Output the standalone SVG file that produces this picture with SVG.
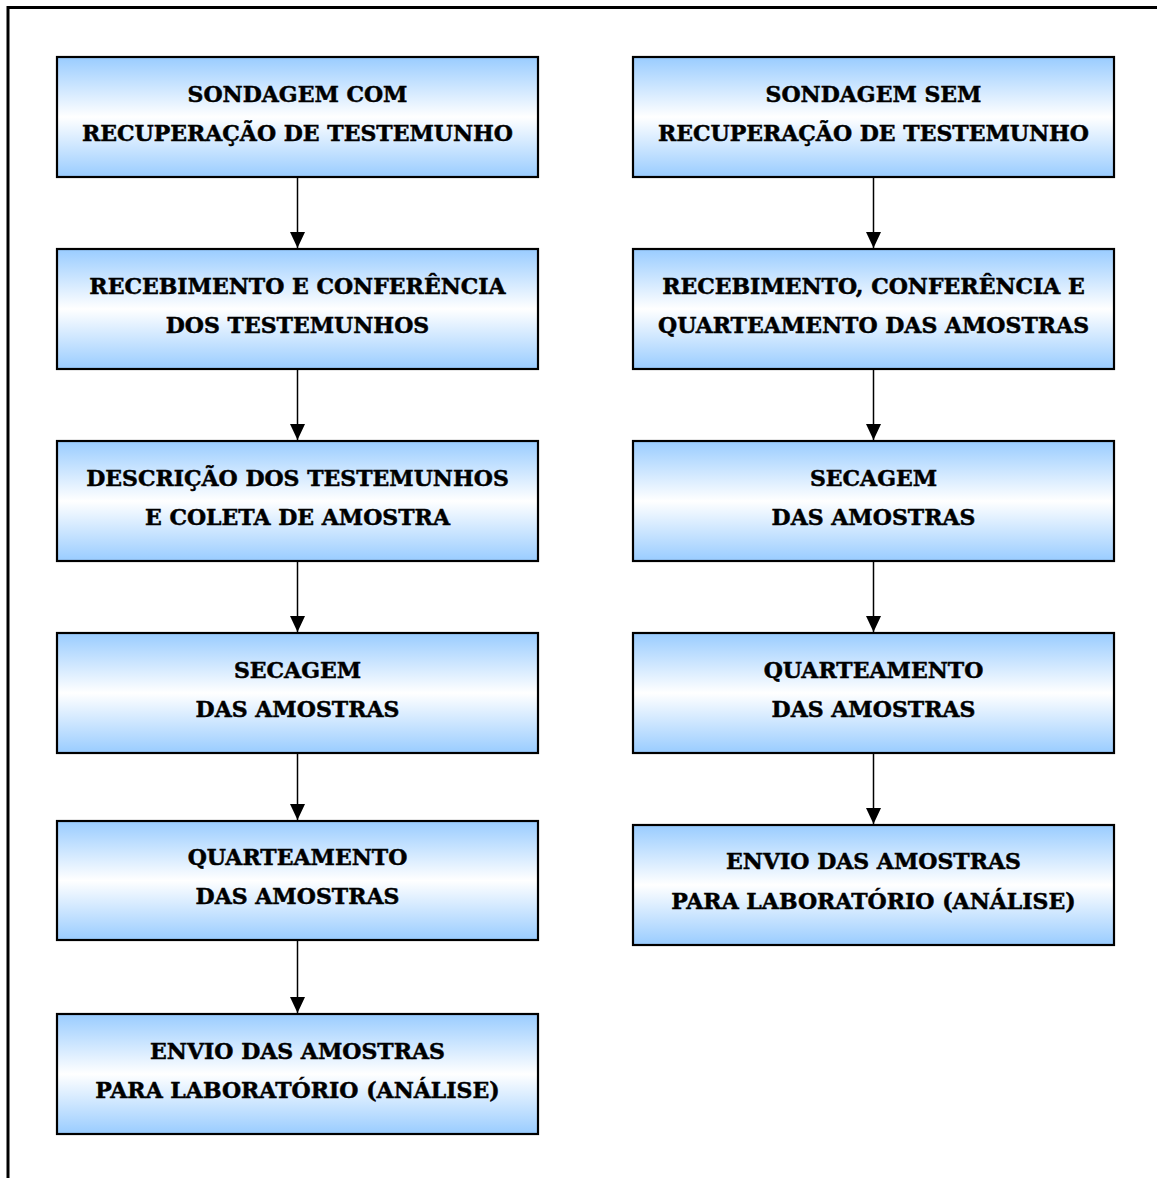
<svg xmlns="http://www.w3.org/2000/svg" width="1157" height="1178" viewBox="0 0 1157 1178">
<defs>
<linearGradient id="g" x1="0" y1="0" x2="0" y2="1">
<stop offset="0" stop-color="#99CCFF"/>
<stop offset="0.5" stop-color="#FFFFFF"/>
<stop offset="1" stop-color="#99CCFF"/>
</linearGradient>
<marker id="ah" markerWidth="16" markerHeight="16" refX="16" refY="7.5" orient="auto" markerUnits="userSpaceOnUse">
<path d="M0,0 L16,7.5 L0,15 Z" fill="#000"/>
</marker>
</defs>
<style>
.box{fill:url(#g);stroke:#000;stroke-width:2.2}
.t{font-family:"DejaVu Serif","Liberation Serif",serif;font-weight:bold;font-size:22px;text-anchor:middle;fill:#000;stroke:#000;stroke-width:0.5}
.c{stroke:#000;stroke-width:1.5;fill:none;marker-end:url(#ah)}
</style>
<rect width="1157" height="1178" fill="#fff"/>
<path d="M8,1178 V7.5 H1157" fill="none" stroke="#000" stroke-width="3"/>

<g id="L1"><rect class="box" x="57" y="57" width="481" height="120"/><text class="t" x="297.5" y="102">SONDAGEM COM</text><text class="t" x="297.5" y="141">RECUPERAÇÃO DE TESTEMUNHO</text></g>
<g id="L2"><rect class="box" x="57" y="249" width="481" height="120"/><text class="t" x="297.5" y="294">RECEBIMENTO E CONFERÊNCIA</text><text class="t" x="297.5" y="333">DOS TESTEMUNHOS</text></g>
<g id="L3"><rect class="box" x="57" y="441" width="481" height="120"/><text class="t" x="297.5" y="486">DESCRIÇÃO DOS TESTEMUNHOS</text><text class="t" x="297.5" y="525">E COLETA DE AMOSTRA</text></g>
<g id="L4"><rect class="box" x="57" y="633" width="481" height="120"/><text class="t" x="297.5" y="678">SECAGEM</text><text class="t" x="297.5" y="717">DAS AMOSTRAS</text></g>
<g id="L5"><rect class="box" x="57" y="821" width="481" height="119"/><text class="t" x="297.5" y="865">QUARTEAMENTO</text><text class="t" x="297.5" y="904">DAS AMOSTRAS</text></g>
<g id="L6"><rect class="box" x="57" y="1014" width="481" height="120"/><text class="t" x="297.5" y="1059">ENVIO DAS AMOSTRAS</text><text class="t" x="297.5" y="1098">PARA LABORATÓRIO (ANÁLISE)</text></g>

<g id="R1"><rect class="box" x="633" y="57" width="481" height="120"/><text class="t" x="873.5" y="102">SONDAGEM SEM</text><text class="t" x="873.5" y="141">RECUPERAÇÃO DE TESTEMUNHO</text></g>
<g id="R2"><rect class="box" x="633" y="249" width="481" height="120"/><text class="t" x="873.5" y="294">RECEBIMENTO, CONFERÊNCIA E</text><text class="t" x="873.5" y="333">QUARTEAMENTO DAS AMOSTRAS</text></g>
<g id="R3"><rect class="box" x="633" y="441" width="481" height="120"/><text class="t" x="873.5" y="486">SECAGEM</text><text class="t" x="873.5" y="525">DAS AMOSTRAS</text></g>
<g id="R4"><rect class="box" x="633" y="633" width="481" height="120"/><text class="t" x="873.5" y="678">QUARTEAMENTO</text><text class="t" x="873.5" y="717">DAS AMOSTRAS</text></g>
<g id="R5"><rect class="box" x="633" y="825" width="481" height="120"/><text class="t" x="873.5" y="869">ENVIO DAS AMOSTRAS</text><text class="t" x="873.5" y="909">PARA LABORATÓRIO (ANÁLISE)</text></g>

<g id="connectors">
<line class="c" x1="297.5" y1="178" x2="297.5" y2="248"/>
<line class="c" x1="297.5" y1="370" x2="297.5" y2="440"/>
<line class="c" x1="297.5" y1="562" x2="297.5" y2="632"/>
<line class="c" x1="297.5" y1="754" x2="297.5" y2="820"/>
<line class="c" x1="297.5" y1="941" x2="297.5" y2="1013"/>
<line class="c" x1="873.5" y1="178" x2="873.5" y2="248"/>
<line class="c" x1="873.5" y1="370" x2="873.5" y2="440"/>
<line class="c" x1="873.5" y1="562" x2="873.5" y2="632"/>
<line class="c" x1="873.5" y1="754" x2="873.5" y2="824"/>
</g>
</svg>
